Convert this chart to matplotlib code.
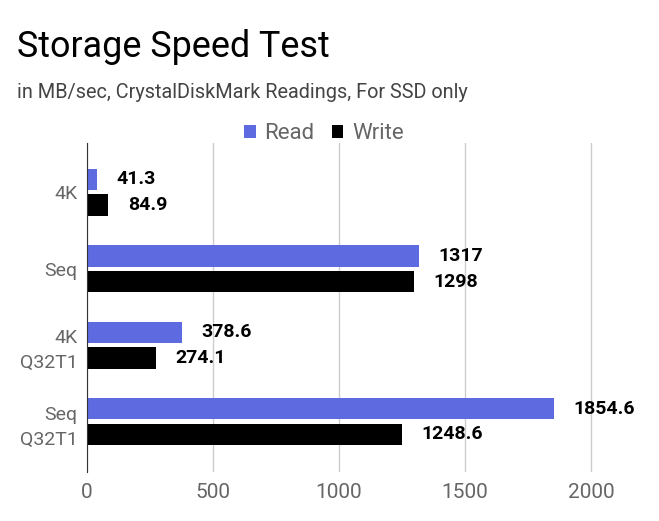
import matplotlib
matplotlib.use('Agg')
import matplotlib.pyplot as plt
import numpy as np

categories = ['4K', 'Seq', '4K\nQ32T1', 'Seq\nQ32T1']
read_vals = [41.3, 1317, 378.6, 1854.6]
write_vals = [84.9, 1298, 274.1, 1248.6]
read_labels = ['41.3', '1317', '378.6', '1854.6']
write_labels = ['84.9', '1298', '274.1', '1248.6']
xticks = [0, 500, 1000, 1500, 2000]

plt.rcParams['font.family'] = ['Roboto', 'DejaVu Sans']

fig = plt.figure(figsize=(6.59, 5.21), dpi=100)
ax = fig.add_axes([0.132, 0.094, 0.841, 0.631])

y = np.arange(len(categories))
h = 0.28
off = 0.168
ax.barh(y - off, read_vals, height=h, color='#5e6be0', label='Read')
ax.barh(y + off, write_vals, height=h, color='#000000', label='Write')

for yi, v, s in zip(y, read_vals, read_labels):
    ax.annotate(s, (v, yi - off), xytext=(14, 0), textcoords='offset points',
                va='center', ha='left', fontsize=14, fontweight='bold', color='black')
for yi, v, s in zip(y, write_vals, write_labels):
    ax.annotate(s, (v, yi + off), xytext=(14, 0), textcoords='offset points',
                va='center', ha='left', fontsize=14, fontweight='bold', color='black')

ax.set_xlim(0, 2200)
ax.set_ylim(3.66, -0.64)
ax.set_xticks(xticks)
ax.set_yticks(y)
ax.set_yticklabels(categories, linespacing=1.5)
ax.tick_params(axis='both', length=0, colors='#666666')
ax.tick_params(axis='x', pad=8, labelsize=15)
ax.tick_params(axis='y', pad=7, labelsize=14)
ax.grid(axis='x', color='#cccccc', linewidth=1)
ax.set_axisbelow(True)
for s in ['top', 'right', 'bottom']:
    ax.spines[s].set_visible(False)
ax.spines['left'].set_color('#333333')
ax.spines['left'].set_zorder(3)

fig.text(0.026, 0.91, 'Storage Speed Test', fontsize=25.8, color='black', va='center')
fig.text(0.026, 0.822, 'in MB/sec, CrystalDiskMark Readings, For SSD only', fontsize=14.3,
         color='#444444', va='center')

leg = fig.legend(loc='center', bbox_to_anchor=(0.492, 0.743), ncol=2, frameon=False,
                 fontsize=16, handlelength=0.5, handleheight=0.5, handletextpad=0.4,
                 columnspacing=0.8)
for t in leg.get_texts():
    t.set_color('#666666')

fig.savefig('out.png', dpi=100)
